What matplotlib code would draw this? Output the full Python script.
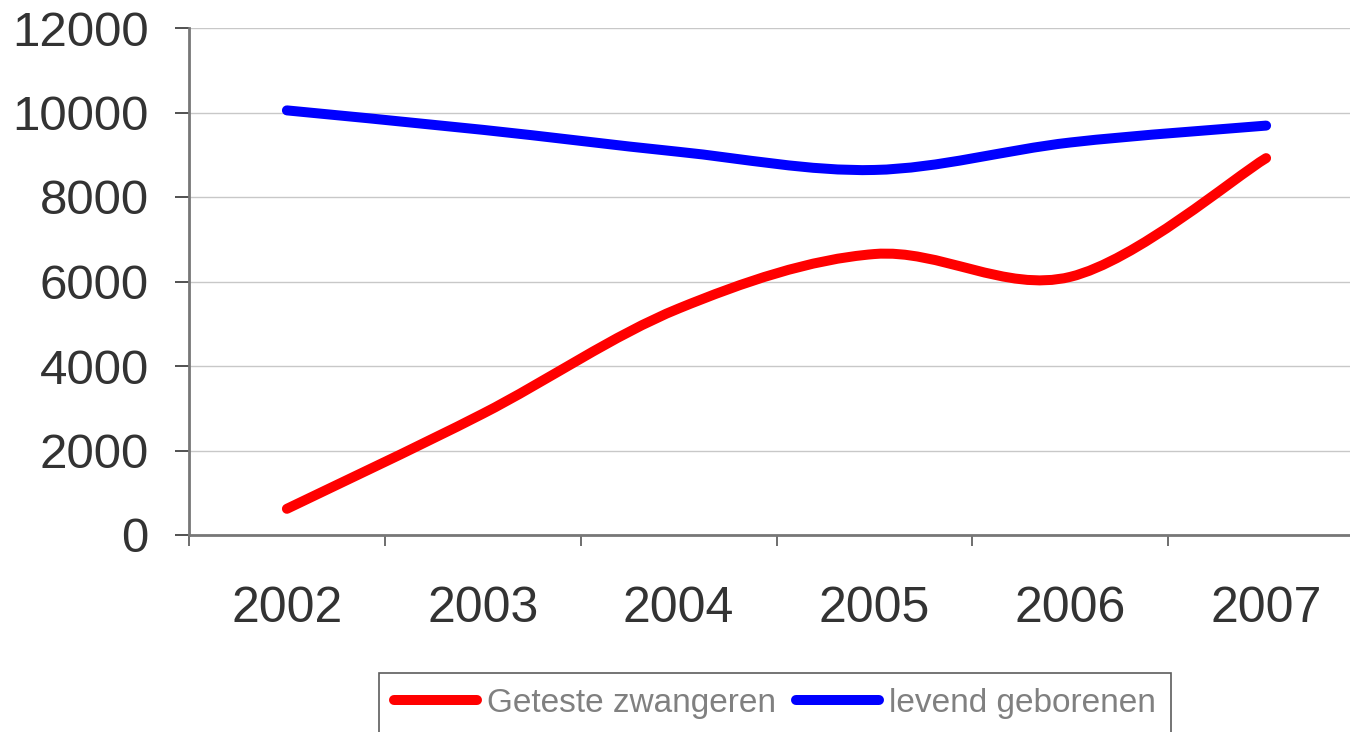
import matplotlib.pyplot as plt
from matplotlib.path import Path
from matplotlib.patches import PathPatch
from matplotlib.lines import Line2D

plt.rcParams['font.family'] = ['Liberation Sans', 'DejaVu Sans']

years = ["2002", "2003", "2004", "2005", "2006", "2007"]
geteste = [620, 2870, 5360, 6650, 6110, 8920]
levend = [10050, 9590, 9070, 8640, 9290, 9690]

red = "#ff0000"
blue = "#0000ff"


def smooth_path(xs, ys):
    # Excel-style smoothed line: cubic Bezier through every point
    n = len(xs)
    verts = [(xs[0], ys[0])]
    codes = [Path.MOVETO]
    for i in range(n - 1):
        p0 = i - 1 if i > 0 else i
        p3 = i + 2 if i + 2 < n else i + 1
        c1 = (xs[i] + (xs[i + 1] - xs[p0]) / 6, ys[i] + (ys[i + 1] - ys[p0]) / 6)
        c2 = (xs[i + 1] - (xs[p3] - xs[i]) / 6, ys[i + 1] - (ys[p3] - ys[i]) / 6)
        verts += [c1, c2, (xs[i + 1], ys[i + 1])]
        codes += [Path.CURVE4] * 3
    return Path(verts, codes)


W, H = 1350, 732
fig = plt.figure(figsize=(W / 100, H / 100), dpi=100)
ax = fig.add_axes([189 / W, 1 - 535 / H, (1364 - 189) / W, (535 - 28) / H])

x = list(range(len(years)))
for vals, col in [(geteste, red), (levend, blue)]:
    ax.add_patch(PathPatch(smooth_path(x, vals), facecolor="none", edgecolor=col,
                           lw=7.2, capstyle="round", joinstyle="round", zorder=3))

ax.set_xlim(-0.5, len(years) - 0.5)
ax.set_ylim(0, 12000)
ax.set_yticks(range(0, 12001, 2000))
ax.set_yticklabels([str(v) for v in range(0, 12001, 2000)])
ax.set_xticks(x)
ax.set_xticklabels(years)
ax.set_xticks([i - 0.5 for i in range(len(years) + 1)], minor=True)

ax.tick_params(axis="y", direction="out", length=10, width=1.2, color="#333333",
               labelsize=35.5, labelcolor="#333333", pad=19)
ax.tick_params(axis="x", which="major", length=0, labelsize=36,
               labelcolor="#333333", pad=37)
ax.tick_params(axis="x", which="minor", direction="out", length=8, width=1.2,
               color="#555555")

ax.grid(axis="y", color="#c8c8c8", lw=1.0)
ax.set_axisbelow(True)
for s in ["top", "right"]:
    ax.spines[s].set_visible(False)
for s in ["left", "bottom"]:
    ax.spines[s].set_color("#777777")
    ax.spines[s].set_linewidth(2)

handles = [
    Line2D([], [], color=red, lw=7.2, solid_capstyle="round"),
    Line2D([], [], color=blue, lw=7.2, solid_capstyle="round"),
]
leg = fig.legend(handles, ["Geteste zwangeren", "levend geborenen"],
                 loc="upper center", bbox_to_anchor=(775 / W, 1 - 673 / H),
                 bbox_transform=fig.transFigure, ncol=2, fontsize=24,
                 frameon=True, fancybox=False, handlelength=2.5,
                 handletextpad=0.3, columnspacing=0.6, borderpad=0.45,
                 borderaxespad=0)
leg.get_frame().set_edgecolor("#333333")
leg.get_frame().set_linewidth(1.2)
for t in leg.get_texts():
    t.set_color("#808080")

fig.savefig("out.png", dpi=100)
